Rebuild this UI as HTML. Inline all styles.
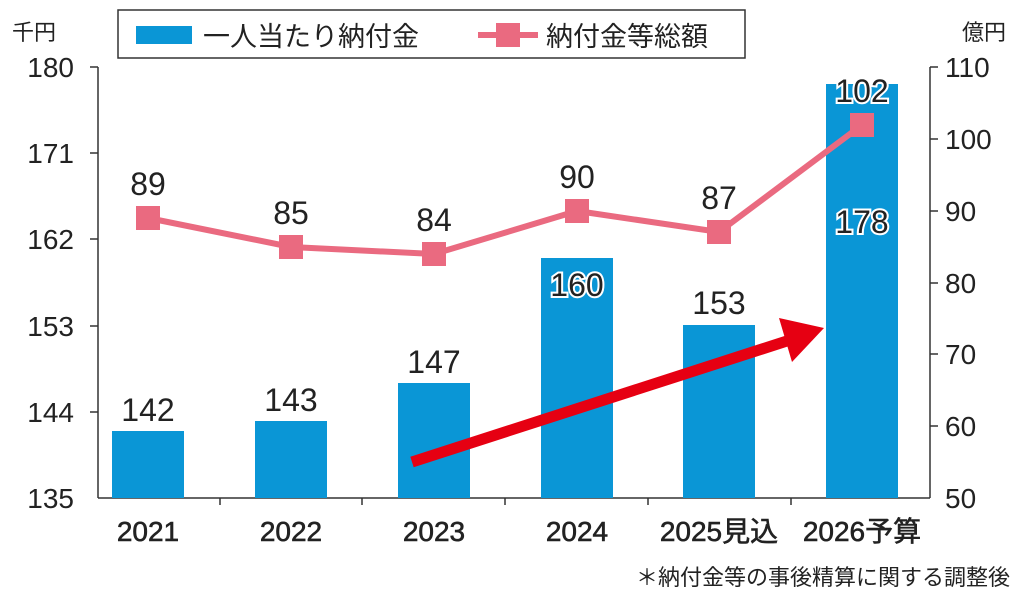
<!DOCTYPE html>
<html><head><meta charset="utf-8"><style>
body{margin:0;background:#fff;}
svg{display:block;font-family:"Liberation Sans","Noto Sans CJK JP",sans-serif;}
</style></head><body>
<svg width="1024" height="593" viewBox="0 0 1024 593" xmlns="http://www.w3.org/2000/svg">
<rect width="1024" height="593" fill="#fff"/>
<g stroke="#333" stroke-width="1.5" fill="none">
<line x1="98" y1="67" x2="98" y2="498"/>
<line x1="930" y1="67" x2="930" y2="498"/>
<line x1="98" y1="498" x2="930" y2="498"/>
<line x1="90" y1="67" x2="98" y2="67"/><line x1="90" y1="153" x2="98" y2="153"/><line x1="90" y1="239" x2="98" y2="239"/><line x1="90" y1="326" x2="98" y2="326"/><line x1="90" y1="412" x2="98" y2="412"/>
<line x1="930" y1="67" x2="938" y2="67"/><line x1="930" y1="139" x2="938" y2="139"/><line x1="930" y1="211" x2="938" y2="211"/><line x1="930" y1="283" x2="938" y2="283"/><line x1="930" y1="354" x2="938" y2="354"/><line x1="930" y1="426" x2="938" y2="426"/>
<line x1="220" y1="498" x2="220" y2="505"/><line x1="362" y1="498" x2="362" y2="505"/><line x1="505" y1="498" x2="505" y2="505"/><line x1="648" y1="498" x2="648" y2="505"/><line x1="791" y1="498" x2="791" y2="505"/>
</g>
<g font-size="28" fill="#222" text-anchor="end">
<text x="74" y="77">180</text><text x="74" y="163">171</text><text x="74" y="249">162</text><text x="74" y="336">153</text><text x="74" y="422">144</text><text x="74" y="508">135</text>
</g>
<g font-size="28" fill="#222" text-anchor="start">
<text x="945" y="77">110</text><text x="945" y="149">100</text><text x="945" y="221">90</text><text x="945" y="293">80</text><text x="945" y="364">70</text><text x="945" y="436">60</text><text x="945" y="508">50</text>
</g>
<text x="12" y="40" font-size="22" fill="#222">千円</text>
<text x="962" y="40" font-size="22" fill="#222">億円</text>
<g fill="#0a96d6">
<rect x="112" y="431" width="72" height="67"/>
<rect x="255" y="421" width="72" height="77"/>
<rect x="398" y="383" width="72" height="115"/>
<rect x="541" y="258" width="72" height="240"/>
<rect x="683" y="325" width="72" height="173"/>
<rect x="826" y="84" width="72" height="414"/>
</g>
<line x1="412" y1="462" x2="790" y2="340" stroke="#e60012" stroke-width="11"/>
<polygon points="824,328 779,318 792,362" fill="#e60012"/>
<g font-size="32" fill="#222" text-anchor="middle">
<text x="148" y="421">142</text><text x="291" y="411">143</text><text x="434" y="373">147</text>
<text x="577" y="296" stroke="#fff" stroke-width="4" paint-order="stroke">160</text>
<text x="719" y="314">153</text>
<text x="862" y="233" stroke="#fff" stroke-width="4" paint-order="stroke">178</text>
</g>
<polyline points="148,218 291,247 434,254 577,211 719,232 862,125" fill="none" stroke="#ea6a80" stroke-width="6"/>
<g fill="#ea6a80">
<rect x="136" y="206" width="24" height="24"/><rect x="279" y="235" width="24" height="24"/><rect x="422" y="242" width="24" height="24"/><rect x="565" y="199" width="24" height="24"/><rect x="707" y="220" width="24" height="24"/><rect x="850" y="113" width="24" height="24"/>
</g>
<g font-size="32" fill="#222" text-anchor="middle">
<text x="148" y="195">89</text><text x="291" y="224">85</text><text x="434" y="231">84</text><text x="577" y="188">90</text><text x="719" y="209">87</text>
<text x="862" y="102" stroke="#fff" stroke-width="4" paint-order="stroke">102</text>
</g>
<g font-size="28" fill="#222" stroke="#222" stroke-width="0.6" text-anchor="middle">
<text x="148" y="541">2021</text><text x="291" y="541">2022</text><text x="434" y="541">2023</text><text x="577" y="541">2024</text><text x="719" y="541">2025見込</text><text x="862" y="541">2026予算</text>
</g>
<text x="1010" y="585" font-size="22" fill="#222" text-anchor="end">＊納付金等の事後精算に関する調整後</text>
<rect x="118" y="10" width="627" height="48" fill="#fff" stroke="#333" stroke-width="1.5"/>
<rect x="136" y="26" width="56" height="18" fill="#0a96d6"/>
<text x="203" y="46" font-size="27" fill="#222">一人当たり納付金</text>
<line x1="478" y1="35" x2="538" y2="35" stroke="#ea6a80" stroke-width="6"/>
<rect x="496" y="23" width="24" height="24" fill="#ea6a80"/>
<text x="546" y="46" font-size="27" fill="#222">納付金等総額</text>
</svg>
</body></html>
